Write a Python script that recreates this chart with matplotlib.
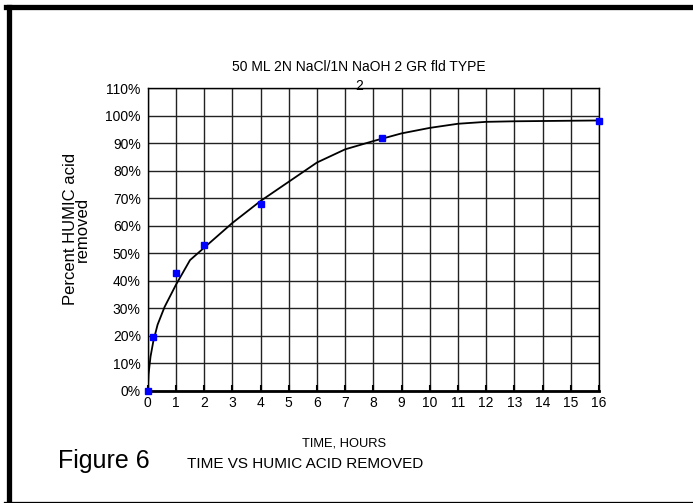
import matplotlib
matplotlib.use("Agg")
import matplotlib.pyplot as plt
from matplotlib.lines import Line2D
from matplotlib.ticker import PercentFormatter

plt.rcParams['font.family'] = ['Liberation Sans', 'DejaVu Sans']

# measured points
time_h = [0, 0.18, 1, 2, 4, 8.3, 16]
removed = [0, 19.5, 42.7, 53, 68, 91.8, 98.2]

# smooth fitted curve
curve_t = [0, 0.03, 0.1, 0.2, 0.35, 0.6, 1, 1.5, 2, 3, 4, 5, 6, 6.5, 7, 8, 9, 10, 11, 12, 13, 16]
curve_v = [0, 6, 12.4, 18, 24, 30.5, 38.5, 47.5, 52, 61, 69, 76, 83, 85.4, 87.8, 90.8, 93.6, 95.6, 97.1, 97.8, 98, 98.3]

xticks = list(range(0, 17))
yticks = list(range(0, 111, 10))

W, H = 693, 503
fig = plt.figure(figsize=(W / 100, H / 100), dpi=100)

def fx(px):
    return px / W

def fy(py):
    return 1 - py / H

# outer frame (right edge falls outside the picture)
lw_frame = 3.8
fig.add_artist(Line2D([fx(6), fx(700)], [fy(7), fy(7)], color='black', linewidth=lw_frame,
                      transform=fig.transFigure, solid_capstyle='projecting'))
fig.add_artist(Line2D([fx(8.5), fx(8.5)], [fy(7), fy(506)], color='black', linewidth=lw_frame,
                      transform=fig.transFigure))
fig.add_artist(Line2D([fx(6), fx(700)], [fy(503.5), fy(503.5)], color='black', linewidth=lw_frame,
                      transform=fig.transFigure))

x0, x1, y0, y1 = 147.7, 599.0, 88.3, 390.7
ax = fig.add_axes([fx(x0), fy(y1), (x1 - x0) / W, (y1 - y0) / H])
ax.plot(curve_t, curve_v, color='black', linewidth=1.3, zorder=3)
ax.plot(time_h, removed, linestyle='none', marker='s', markersize=5,
        color='#0000FF', markeredgecolor='#0000FF', zorder=4, clip_on=False)

ax.set_xlim(0, 16)
ax.set_ylim(0, 110)
ax.set_xticks(xticks)
ax.set_yticks(yticks)
ax.yaxis.set_major_formatter(PercentFormatter(decimals=0))
ax.grid(True, color='#222222', linewidth=1.0)
ax.set_axisbelow(True)
for s in ax.spines.values():
    s.set_color('black')
    s.set_linewidth(1.0)
ax.spines['bottom'].set_linewidth(2.0)
ax.tick_params(axis='x', direction='in', length=4, width=1.5, labelsize=10, pad=4)
ax.tick_params(axis='y', length=0, labelsize=10, pad=5)

ax.set_title('50 ML 2N NaCl/1N NaOH 2 GR fld TYPE\n2', fontsize=10, pad=-1, linespacing=1.4,
             x=0.468, y=1.0)
ax.set_xlabel('TIME, HOURS', fontsize=9.3)
ax.xaxis.set_label_coords((344.5 - x0) / (x1 - x0), (y1 - 437) / (y1 - y0))
ax.set_ylabel('Percent HUMIC acid\nremoved', fontsize=12, linespacing=0.78)
ax.yaxis.set_label_coords((90 - x0) / (x1 - x0), (y1 - 229) / (y1 - y0))

fig.text(fx(58), fy(461), 'Figure 6', fontsize=18, va='center', ha='left')
fig.text(fx(187), fy(464), 'TIME VS HUMIC ACID REMOVED', fontsize=11, va='center', ha='left')

fig.savefig('out.png', dpi=100)
